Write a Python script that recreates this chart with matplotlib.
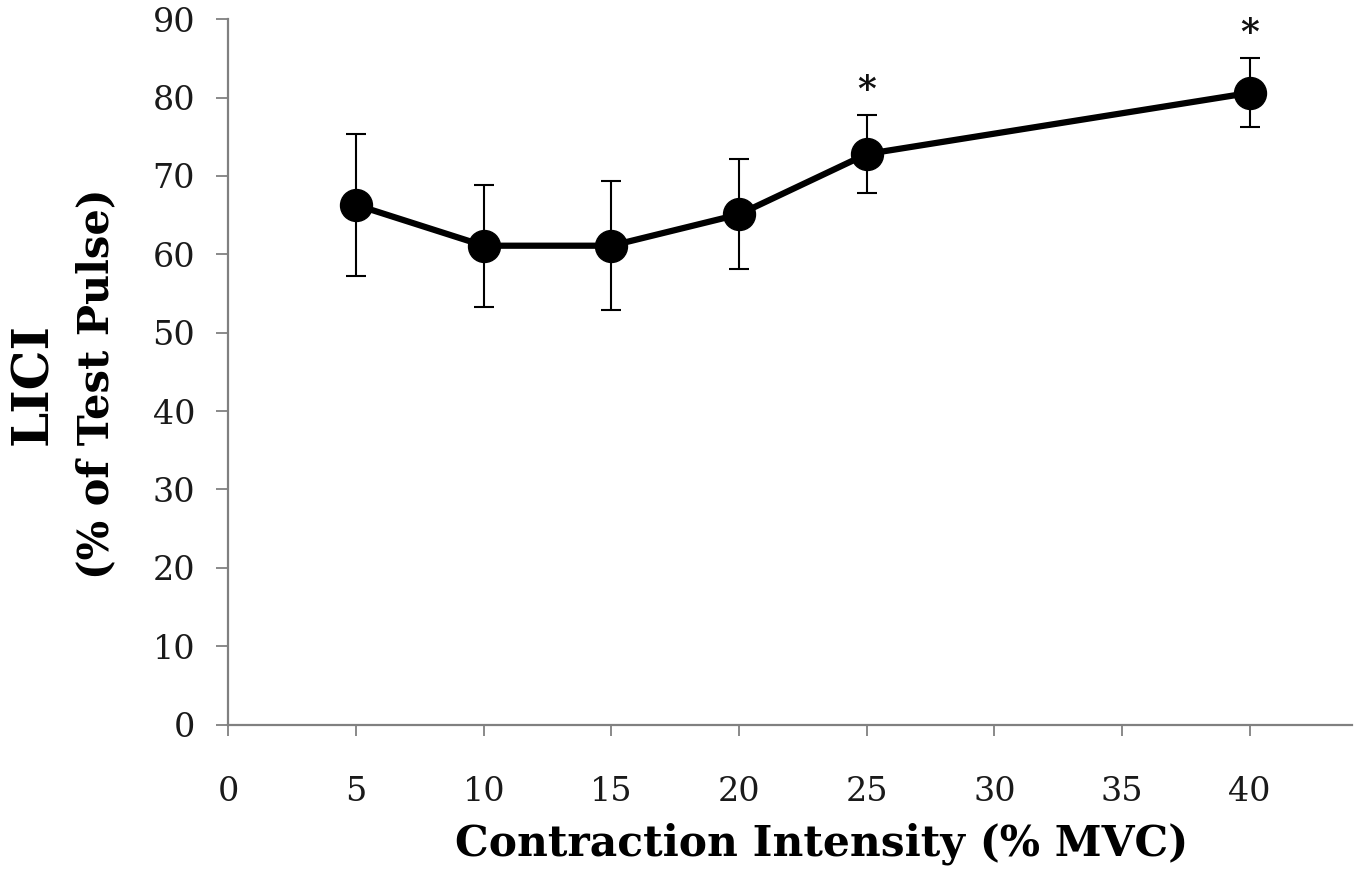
import numpy as np
import matplotlib
matplotlib.use("Agg")
import matplotlib.pyplot as plt

# values
intensity = [5, 10, 15, 20, 25, 40]
lici = [66.3, 61.1, 61.1, 65.1, 72.8, 80.6]
sd = [9.1, 7.8, 8.2, 7.0, 5.0, 4.4]
significant = [False, False, False, False, True, True]

x_ticks = [0, 5, 10, 15, 20, 25, 30, 35, 40]
y_ticks = [0, 10, 20, 30, 40, 50, 60, 70, 80, 90]

plt.rcParams["font.family"] = ["DejaVu Serif"]

fig = plt.figure(figsize=(13.6, 8.73), dpi=100)
ax = fig.add_axes([0.168, 0.170, 0.826, 0.808])

ax.errorbar(intensity, lici, yerr=sd, color="black", linewidth=4.5,
            marker="o", markersize=23, ecolor="black", elinewidth=1.5,
            capsize=7, capthick=1.5, zorder=3)

for x, y, e, sig in zip(intensity, lici, sd, significant):
    if sig:
        ax.text(x, y + e + 3.2, "*", ha="center", va="center", fontsize=26,
                fontweight="bold", color="#111111")

ax.set_xlim(0, 44)
ax.set_ylim(0, 90)
ax.set_xticks(x_ticks)
ax.set_yticks(y_ticks)

for side in ["top", "right"]:
    ax.spines[side].set_visible(False)
for side in ["left", "bottom"]:
    ax.spines[side].set_color("#808080")
    ax.spines[side].set_linewidth(1.6)

ax.tick_params(axis="y", direction="out", length=9, width=1.3, color="#808080",
               labelsize=24, pad=15, labelcolor="#1a1a1a")
ax.tick_params(axis="x", direction="out", length=8, width=1.3, color="#808080",
               labelsize=24, pad=29, labelcolor="#1a1a1a")

ax.set_xlabel("Contraction Intensity (% MVC)", fontsize=30.5, fontweight="bold")
ax.xaxis.set_label_coords(0.528, -0.139)
fig.text(0.025, 0.560, "LICI", rotation=90, fontsize=36, fontweight="bold",
         ha="center", va="center")
fig.text(0.071, 0.561, "(% of Test Pulse)", rotation=90, fontsize=30,
         fontweight="bold", ha="center", va="center")

fig.savefig("out.png", dpi=100, facecolor="white")
